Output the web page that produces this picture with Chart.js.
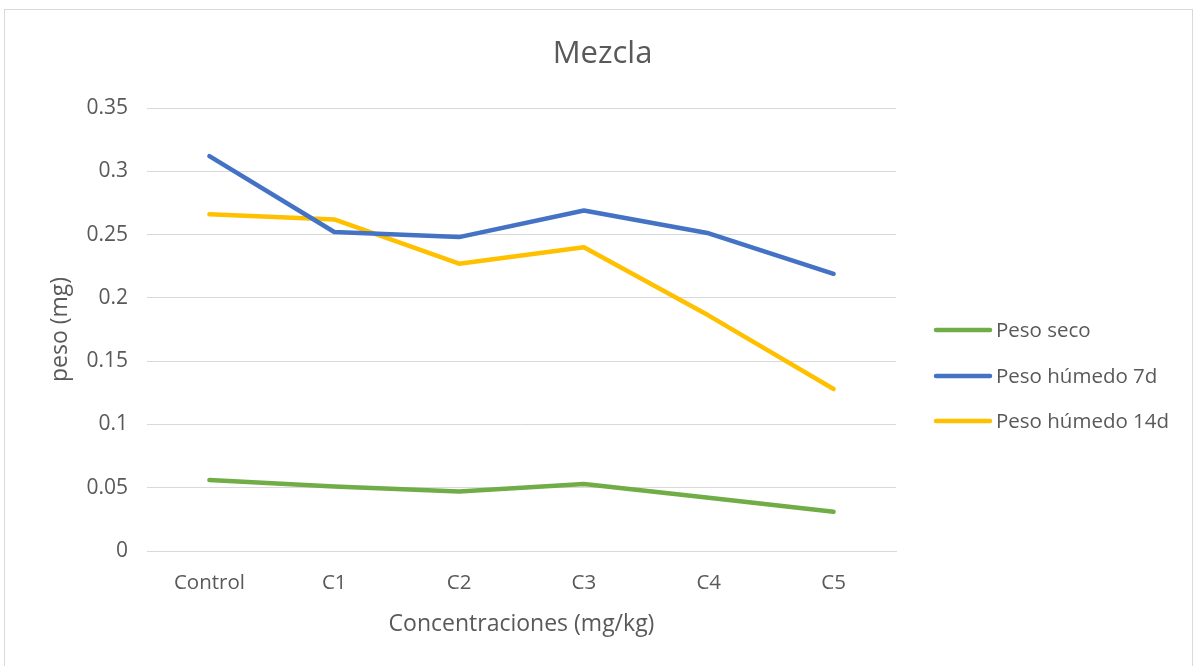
<!DOCTYPE html>
<html>
<head>
<meta charset="utf-8">
<script src="https://cdn.jsdelivr.net/npm/chart.js@4.4.1/dist/chart.umd.min.js"></script>
<style>
  html, body { margin: 0; padding: 0; background: #fff; }
  #box {
    position: absolute; left: 4px; top: 9px;
    width: 1189px; height: 670px;
    border: 1px solid #d9d9d9; box-sizing: border-box;
  }
  #wrap { position: absolute; left: 0; top: 0; width: 1187px; height: 656px; }
</style>
</head>
<body>
<div id="box"><div id="wrap"><canvas id="c"></canvas></div></div>
<script>
// ── Data ─────────────────────────────────────────────────────────────────
const categories   = ['Control', 'C1', 'C2', 'C3', 'C4', 'C5'];
const pesoSeco     = [0.056, 0.051, 0.047, 0.053, 0.042, 0.031];
const pesoHumedo7  = [0.312, 0.252, 0.248, 0.269, 0.251, 0.219];
const pesoHumedo14 = [0.266, 0.262, 0.227, 0.240, 0.186, 0.128];
const seriesNames  = ['Peso seco', 'Peso húmedo 7d', 'Peso húmedo 14d'];
const chartTitle   = 'Mezcla';

// ── Style tokens ─────────────────────────────────────────────────────────
const GREEN = '#70AD47';
const BLUE  = '#4472C4';
const GOLD  = '#FFC000';
const TEXT  = '#595959';
const GRID  = '#d9d9d9';
const FONT  = "'Open Sans', 'Liberation Sans', sans-serif";

// Title centred on the whole canvas + Excel-style legend on the right
const decor = {
  id: 'decor',
  afterDraw(chart) {
    const ctx = chart.ctx;
    ctx.save();
    ctx.fillStyle = TEXT;
    ctx.textBaseline = 'middle';
    ctx.textAlign = 'center';
    ctx.font = '31px ' + FONT;
    ctx.fillText(chartTitle, chart.width / 2 + 4, 44);

    const x0 = 931, rows = [320, 366, 411];
    ctx.font = '20.5px ' + FONT;
    ctx.textAlign = 'left';
    chart.data.datasets.forEach((ds, i) => {
      const y = rows[i];
      ctx.strokeStyle = ds.borderColor;
      ctx.lineWidth = 4.5;
      ctx.lineCap = 'round';
      ctx.beginPath();
      ctx.moveTo(x0, y);
      ctx.lineTo(x0 + 54, y);
      ctx.stroke();
      ctx.fillText(ds.label, x0 + 60, y + 1);
    });
    ctx.restore();
  }
};

function line(label, data, color) {
  return {
    label, data,
    borderColor: color,
    backgroundColor: color,
    borderWidth: 4.5,
    pointRadius: 0,
    tension: 0,
    borderCapStyle: 'round',
    borderJoinStyle: 'round',
  };
}

new Chart(document.getElementById('c'), {
  type: 'line',
  data: {
    labels: categories,
    datasets: [
      line(seriesNames[0], pesoSeco, GREEN),
      line(seriesNames[1], pesoHumedo7, BLUE),
      line(seriesNames[2], pesoHumedo14, GOLD),
    ],
  },
  options: {
    responsive: true,
    maintainAspectRatio: false,
    animation: false,
    layout: { padding: { left: 0, right: 296, top: 98, bottom: 20 } },
    plugins: {
      legend: { display: false },
      tooltip: { enabled: false },
      title: { display: false },
    },
    scales: {
      x: {
        offset: true,
        grid: { display: false, drawTicks: false },
        border: { color: GRID, width: 1 },
        ticks: { color: TEXT, font: { family: FONT, size: 20.5 }, padding: 20 },
        title: {
          display: true,
          text: 'Concentraciones (mg/kg)',
          color: TEXT,
          font: { family: FONT, size: 23 },
          padding: { top: 0, bottom: 8 },
        },
        afterFit: s => { s.height = 95; },
      },
      y: {
        min: 0,
        max: 0.35,
        ticks: {
          stepSize: 0.05,
          color: TEXT,
          font: { family: FONT, size: 21 },
          padding: 19,
          callback: v => String(+v.toFixed(2)),
        },
        grid: { color: GRID, drawTicks: false },
        border: { display: false },
        title: {
          display: true,
          text: 'peso (mg)',
          color: TEXT,
          font: { family: FONT, size: 23 },
          padding: { top: 42, bottom: 0 },
        },
        afterFit: s => { s.width = 142; },
      },
    },
  },
  plugins: [decor],
});
</script>
</body>
</html>
